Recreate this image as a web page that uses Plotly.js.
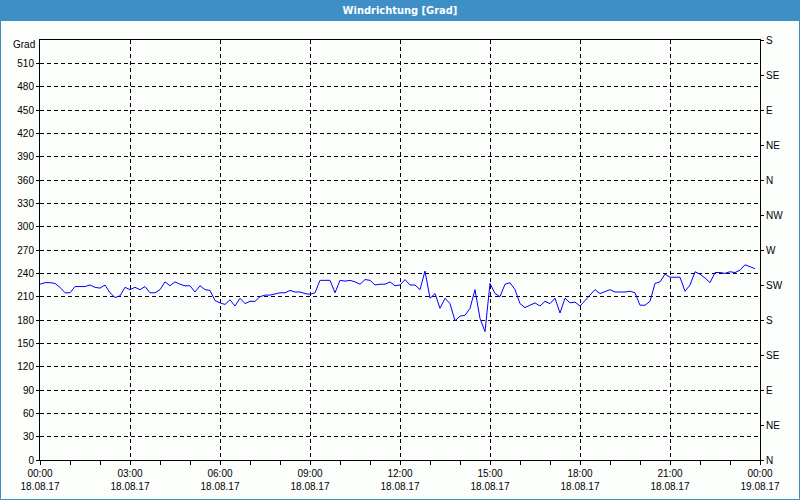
<!DOCTYPE html>
<html>
<head>
<meta charset="utf-8">
<script src="https://cdn.plot.ly/plotly-3.0.1.min.js"></script>
<style>
  html, body { margin: 0; padding: 0; background: #fcfefc; }
  #chart { width: 800px; height: 500px; }
</style>
</head>
<body>
<div id="chart"></div>
<script>
// ---- data ----
const chartTitle = 'Windrichtung [Grad]';
const startTime = '2017-08-18 00:00';
const endTime = '2017-08-19 00:00';
const stepMinutes = 10;
// wind direction in degrees, one value per 10 minutes from 00:00
const windDir = [
  226, 228, 228, 227, 222, 215, 215, 223, 223, 223,
  225, 222, 221, 225, 215, 209, 211, 222, 219, 222,
  219, 223, 215, 215, 219, 229, 224, 229, 226, 224,
  224, 216, 224, 219, 218, 205, 202, 200, 206, 198,
  208, 201, 204, 204, 210, 212, 212, 214, 215, 215,
  218, 216, 216, 214, 213, 215, 231, 231, 231, 215,
  231, 230, 231, 229, 226, 232, 231, 225, 226, 226,
  229, 224, 225, 232, 225, 225, 219, 243, 208, 214,
  195, 208, 201, 179, 185, 186, 195, 219, 182, 165,
  227, 214, 210, 226, 228, 219, 201, 196, 199, 202,
  198, 204, 201, 208, 189, 208, 202, 203, 198, 205,
  211, 219, 214, 216, 219, 216, 216, 216, 217, 215,
  199, 199, 204, 227, 229, 239, 235, 235, 235, 217,
  225, 242, 239, 234, 228, 241, 241, 240, 242, 241,
  244, 251, 248, 246
];
const xTickValues = ['2017-08-18 00:00', '2017-08-18 03:00', '2017-08-18 06:00', '2017-08-18 09:00',
  '2017-08-18 12:00', '2017-08-18 15:00', '2017-08-18 18:00', '2017-08-18 21:00', '2017-08-19 00:00'];
const xTickTimes = ['00:00', '03:00', '06:00', '09:00', '12:00', '15:00', '18:00', '21:00', '00:00'];
const xTickDates = ['18.08.17', '18.08.17', '18.08.17', '18.08.17', '18.08.17', '18.08.17', '18.08.17', '18.08.17', '19.08.17'];
const yLeftTicks = [0, 30, 60, 90, 120, 150, 180, 210, 240, 270, 300, 330, 360, 390, 420, 450, 480, 510];
const yLeftUnit = 'Grad';
const yRightTicks = [0, 45, 90, 135, 180, 225, 270, 315, 360, 405, 450, 495, 540];
const yRightLabels = ['N', 'NE', 'E', 'SE', 'S', 'SW', 'W', 'NW', 'N', 'NE', 'E', 'SE', 'S'];

// ---- build times ----
function fmt(d) {
  const p = n => String(n).padStart(2, '0');
  return d.getUTCFullYear() + '-' + p(d.getUTCMonth() + 1) + '-' + p(d.getUTCDate()) + ' ' +
    p(d.getUTCHours()) + ':' + p(d.getUTCMinutes());
}
const t0 = Date.UTC(2017, 7, 18, 0, 0);
const times = windDir.map((_, i) => fmt(new Date(t0 + i * stepMinutes * 60000)));

const W = 800, H = 500, ML = 40, MR = 40, MT = 40, MB = 40;
const pw = W - ML - MR, ph = H - MT - MB;
const px2x = p => (p - ML) / pw;
const px2y = p => 1 + (MT - p) / ph;

const font = { family: 'Liberation Sans, Arial, sans-serif', size: 10, color: '#000' };

const traces = [
  {
    x: times, y: windDir, type: 'scatter', mode: 'lines',
    line: { color: '#0000ff', width: 1 }, hoverinfo: 'x+y', showlegend: false
  },
  {
    x: times, y: windDir, type: 'scatter', mode: 'lines', yaxis: 'y2',
    line: { color: 'rgba(0,0,0,0)', width: 0 }, hoverinfo: 'skip', showlegend: false
  }
];

const layout = {
  width: W, height: H,
  margin: { l: ML, r: MR, t: MT, b: MB, pad: 0 },
  paper_bgcolor: '#fcfefc', plot_bgcolor: '#fcfefc',
  font: font,
  showlegend: false,
  title: {
    text: '<b>' + chartTitle + '</b>',
    font: { family: 'DejaVu Sans Condensed, DejaVu Sans, sans-serif', size: 11, color: '#ffffff' },
    x: 0.5, xanchor: 'center', xref: 'container',
    y: 1 - 10.5 / H, yanchor: 'middle', yref: 'container'
  },
  xaxis: {
    type: 'date', range: [startTime, endTime],
    tickmode: 'array', tickvals: xTickValues,
    ticktext: xTickTimes.map((t, i) => t + '<br>' + xTickDates[i]),
    ticks: 'outside', ticklen: 4, tickcolor: '#000', tickwidth: 1,
    showline: true, linecolor: '#000', linewidth: 1, mirror: true,
    showgrid: true, gridcolor: '#000', gridwidth: 1, griddash: '4px,3px',
    zeroline: false, tickfont: font,
    minor: { tickmode: 'linear', tick0: startTime, dtick: 3600000, ticks: 'outside', ticklen: 4, tickcolor: '#000', showgrid: false },
    fixedrange: true
  },
  yaxis: {
    range: [0, 540], tickmode: 'array', tickvals: yLeftTicks,
    ticks: 'outside', ticklen: 3, tickcolor: '#000',
    showline: true, linecolor: '#000', linewidth: 1, mirror: true,
    showgrid: true, gridcolor: '#000', gridwidth: 1, griddash: '4px,3px',
    zeroline: false, tickfont: font, fixedrange: true
  },
  yaxis2: {
    overlaying: 'y', side: 'right', range: [0, 540],
    tickmode: 'array', tickvals: yRightTicks, ticktext: yRightLabels,
    ticks: 'outside', ticklen: 3, tickcolor: '#000',
    showline: true, linecolor: '#000', linewidth: 1,
    showgrid: false, zeroline: false, tickfont: font, fixedrange: true
  },
  annotations: [
    {
      text: yLeftUnit, xref: 'paper', yref: 'paper', x: 0, y: px2y(45),
      xanchor: 'right', yanchor: 'middle', xshift: -3, showarrow: false, font: font
    }
  ],
  shapes: [
    {
      type: 'rect', xref: 'paper', yref: 'paper', layer: 'below',
      x0: px2x(0), x1: px2x(800), y0: px2y(21), y1: px2y(0),
      fillcolor: '#3d8fc6', line: { width: 0 }
    },
    {
      type: 'rect', xref: 'paper', yref: 'paper', layer: 'below',
      x0: px2x(0.5), x1: px2x(799.5), y0: px2y(499.5), y1: px2y(0),
      fillcolor: 'rgba(0,0,0,0)', line: { width: 1, color: '#3d8fc6' }
    }
  ]
};

Plotly.newPlot('chart', traces, layout, { staticPlot: true, displayModeBar: false });
</script>
</body>
</html>
